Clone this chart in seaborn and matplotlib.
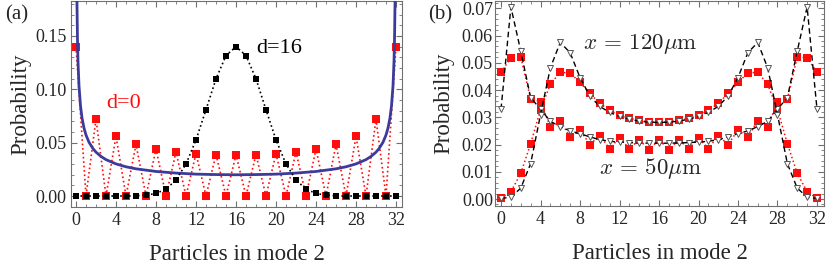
import numpy as np
import pandas as pd
import matplotlib
matplotlib.use("Agg")
import matplotlib.pyplot as plt
from matplotlib.ticker import MultipleLocator, FormatStrFormatter
import seaborn as sns

# ---- data ----
particles = list(range(33))

# (a) probability for d=0 (red) and d=16 (black)
prob_d0 = [0.1400, 0, 0.0722, 0, 0.0560, 0, 0.0484, 0, 0.0441, 0, 0.0414, 0,
           0.0398, 0, 0.0389, 0, 0.0386, 0, 0.0389, 0, 0.0398, 0, 0.0414, 0,
           0.0441, 0, 0.0484, 0, 0.0560, 0, 0.0722, 0, 0.1400]
prob_d16 = [0, 0, 0, 0, 0, 0, 0.0002, 0.0008, 0.0024, 0.0065, 0.0150, 0.0300,
            0.0526, 0.0809, 0.1098, 0.1317, 0.1400, 0.1317, 0.1098, 0.0809,
            0.0526, 0.0300, 0.0150, 0.0065, 0.0024, 0.0008, 0.0002, 0, 0, 0,
            0, 0, 0]

# (a) continuous envelope (blue)
env_x = [0.06, 0.1, 0.15, 0.2, 0.3, 0.45, 0.6, 0.8, 1, 1.3, 1.7, 2, 2.5, 3, 4,
         5, 6, 8, 10, 12, 14, 16, 18, 20, 22, 24, 26, 27, 28, 29, 29.5, 30,
         30.3, 30.7, 31, 31.2, 31.4, 31.55, 31.7, 31.8, 31.85, 31.9, 31.94]
env_y = [0.2299, 0.1782, 0.1456, 0.1262, 0.1032, 0.0845, 0.0733, 0.0637,
         0.0572, 0.0504, 0.0444, 0.0411, 0.0371, 0.0341, 0.0301, 0.0274,
         0.0255, 0.0230, 0.0215, 0.0205, 0.0201, 0.0199, 0.0201, 0.0205,
         0.0215, 0.0230, 0.0255, 0.0274, 0.0301, 0.0341, 0.0371, 0.0411,
         0.0444, 0.0504, 0.0572, 0.0637, 0.0733, 0.0845, 0.1032, 0.1262,
         0.1456, 0.1782, 0.2299]

# (b) x = 50 um: theory (black dashed) and measured (red)
x50_theory = [0.0330, 0.0705, 0.0543, 0.0372, 0.0330, 0.0285, 0.0266, 0.0250,
              0.0240, 0.0228, 0.0218, 0.0212, 0.0209, 0.0207, 0.0206, 0.0205,
              0.0205, 0.0205, 0.0206, 0.0207, 0.0209, 0.0212, 0.0218, 0.0228,
              0.0240, 0.0250, 0.0266, 0.0285, 0.0330, 0.0372, 0.0543, 0.0705,
              0.0330]
x50_exp = [0.0465, 0.0519, 0.0521, 0.0367, 0.0358, 0.0264, 0.0288, 0.0227,
           0.0254, 0.0200, 0.0233, 0.0185, 0.0225, 0.0185, 0.0218, 0.0181,
           0.0218, 0.0181, 0.0218, 0.0185, 0.0225, 0.0185, 0.0233, 0.0200,
           0.0254, 0.0227, 0.0288, 0.0264, 0.0358, 0.0367, 0.0521, 0.0519,
           0.0465]

# (b) x = 120 um
x120_theory = [0.0002, 0.0007, 0.0040, 0.0130, 0.0310, 0.0482, 0.0575, 0.0537,
               0.0446, 0.0378, 0.0340, 0.0318, 0.0303, 0.0293, 0.0286, 0.0282,
               0.0281, 0.0282, 0.0286, 0.0293, 0.0303, 0.0318, 0.0340, 0.0378,
               0.0446, 0.0537, 0.0575, 0.0482, 0.0310, 0.0130, 0.0040, 0.0007,
               0.0002]
x120_exp = [0.0003, 0.0027, 0.0094, 0.0203, 0.0328, 0.0422, 0.0465, 0.0463,
            0.0428, 0.0388, 0.0351, 0.0326, 0.0308, 0.0296, 0.0289, 0.0284,
            0.0282, 0.0284, 0.0289, 0.0296, 0.0308, 0.0326, 0.0351, 0.0388,
            0.0428, 0.0463, 0.0465, 0.0422, 0.0328, 0.0203, 0.0094, 0.0027,
            0.0003]

RED = "#ff0d0d"
BLUE = "#3b3b9c"
FRAME = "#707070"

sns.set_theme(style="ticks")
plt.rcParams["font.family"] = ["Liberation Serif", "DejaVu Serif"]
plt.rcParams["mathtext.fontset"] = "cm"

fig = plt.figure(figsize=(8.3, 2.68), dpi=100)
W, H = 830, 268
ax1 = fig.add_axes([71 / W, 1 - 207 / H, (402 - 71) / W, (207 - 1) / H])
ax2 = fig.add_axes([495 / W, 1 - 206 / H, (824 - 495) / W, (206 - 1) / H])


def style_frame(ax, ymajor, yminor):
    ax.xaxis.set_major_locator(MultipleLocator(4))
    ax.xaxis.set_minor_locator(MultipleLocator(1))
    ax.yaxis.set_major_locator(MultipleLocator(ymajor))
    ax.yaxis.set_minor_locator(MultipleLocator(yminor))
    ax.yaxis.set_major_formatter(FormatStrFormatter("%.2f"))
    ax.tick_params(which="both", direction="in", top=True, right=True,
                   color=FRAME, labelsize=13)
    ax.tick_params(which="major", length=4, width=0.8)
    ax.tick_params(which="minor", length=2, width=0.6)
    for s in ax.spines.values():
        s.set_color(FRAME)
        s.set_linewidth(0.8)
    ax.set_xlabel("Particles in mode 2", fontsize=16.5, labelpad=11)
    ax.set_ylabel("Probability", fontsize=16.5, labelpad=3)


# ---- panel (a) ----
sns.lineplot(x=particles, y=prob_d0, ax=ax1, color=RED, linestyle=":",
             linewidth=1.2, marker="s", markersize=5.5, markeredgewidth=0,
             zorder=2)
sns.lineplot(x=env_x, y=env_y, ax=ax1, color=BLUE, linewidth=2.0, zorder=3)
sns.lineplot(x=particles, y=prob_d16, ax=ax1, color="black", linestyle=":",
             linewidth=1.2, marker="s", markersize=5, markeredgewidth=0,
             zorder=4)
ax1.set_xlim(-0.5, 32.6)
ax1.set_ylim(-0.0103, 0.1828)
style_frame(ax1, 0.05, 0.01)
ax1.tick_params(axis="y", pad=3)
ax1.text(4.75, 0.087, "d=0", color=RED, fontsize=16, ha="center", va="center")
ax1.text(20.3, 0.138, "d=16", color="black", fontsize=16, ha="center",
         va="center")

# ---- panel (b) ----
sns.lineplot(x=particles, y=x50_exp, ax=ax2, color=RED, linestyle=":",
             linewidth=1.1, marker="s", markersize=5.5, markeredgewidth=0,
             zorder=2)
sns.lineplot(x=particles, y=x120_exp, ax=ax2, color=RED, linestyle=":",
             linewidth=1.1, marker="s", markersize=5.5, markeredgewidth=0,
             zorder=2)
for series in (x50_theory, x120_theory):
    sns.lineplot(x=particles, y=series, ax=ax2, color="black",
                 linestyle=(0, (4, 2.5)), linewidth=1.0, marker="v",
                 markersize=4.5, markerfacecolor="white",
                 markeredgecolor="#555555", markeredgewidth=0.7, zorder=3)
ax2.set_xlim(-0.61, 32.71)
ax2.set_ylim(-0.00256, 0.0727)
style_frame(ax2, 0.01, 0.002)
ax2.tick_params(axis="y", pad=1.5)
ax2.yaxis.labelpad = 5
ax2.text(14.1, 0.0570, r"$x\,=\,120\mu\mathrm{m}$", fontsize=16.5,
         ha="center", va="center")
ax2.text(15.1, 0.0113, r"$x\,=\,50\mu\mathrm{m}$", fontsize=16.5,
         ha="center", va="center")

fig.text(5 / W, 1 - 15 / H, "(a)", fontsize=15, ha="left", va="center")
fig.text(428 / W, 1 - 15 / H, "(b)", fontsize=15, ha="left", va="center")

fig.savefig("out.png", dpi=100)
